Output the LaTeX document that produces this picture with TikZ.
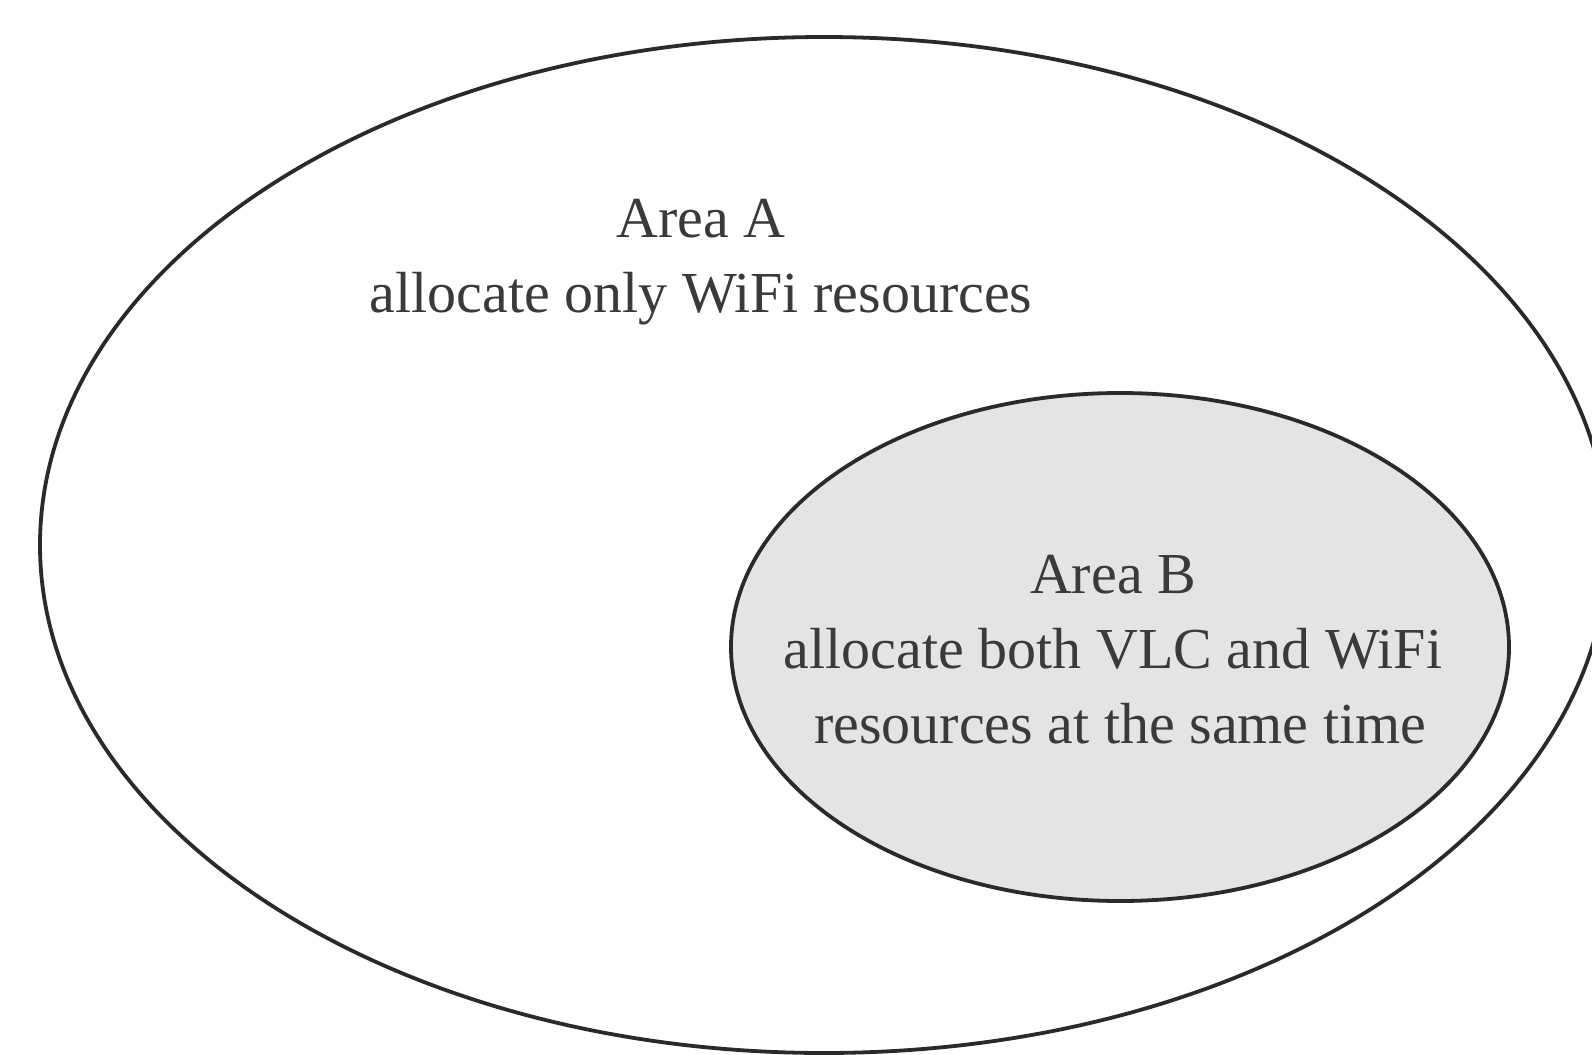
\documentclass[tikz,border=0pt]{standalone}
\usepackage{fontspec}
\setmainfont{Liberation Serif}
\usetikzlibrary{shapes.geometric}
\definecolor{edge}{HTML}{2A2A2A}
\definecolor{areafill}{HTML}{E4E4E4}
\definecolor{txt}{HTML}{3A3A3A}
\tikzset{
  area/.style={ellipse, draw=edge, line width=1.9pt, inner sep=0pt},
  label/.style={align=center, text=txt, inner sep=0pt, font=\fontsize{29}{37.5}\selectfont}
}
\begin{document}
\begin{tikzpicture}[x=0.5pt,y=-0.5pt]
\useasboundingbox[fill=white] (0,0) rectangle (1592,1055);
\node[area, fill=white, minimum width=784pt, minimum height=508pt] (outer) at (824,545) {};
\node[area, fill=areafill, minimum width=389pt, minimum height=254pt] (inner) at (1120,647) {};
\node[label] (la) at (701,262) {Area A\\allocate only WiFi resources};
\node[label] (lb) at (1113,650) {Area B\\allocate both VLC and WiFi\\\ resources at the same time};
\end{tikzpicture}
\end{document}
